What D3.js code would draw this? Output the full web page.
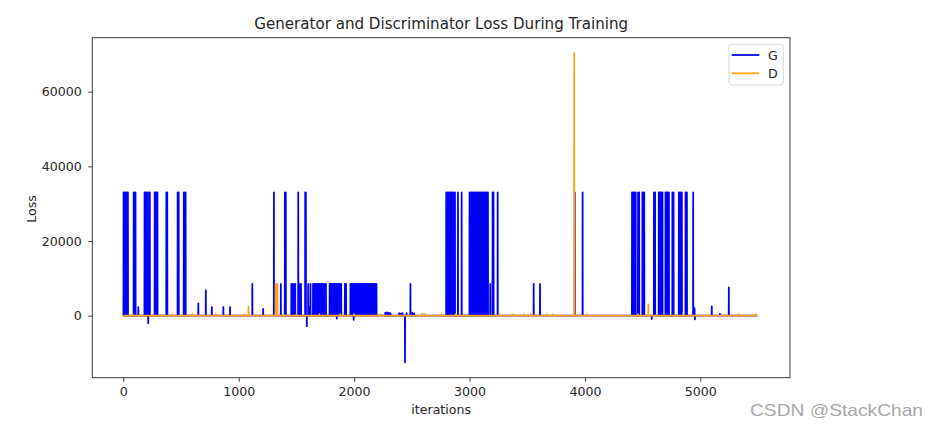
<!DOCTYPE html>
<html>
<head>
<meta charset="utf-8">
<script src="https://cdn.jsdelivr.net/npm/d3@7"></script>
<style>
  html, body { margin: 0; padding: 0; background: #fff; }
  svg { display: block; }
  text { font-family: "DejaVu Sans", sans-serif; }
</style>
</head>
<body>
<svg id="chart" width="930" height="434"></svg>
<script>
// ---------------- data ----------------
const title = "Generator and Discriminator Loss During Training";
const xLabel = "iterations";
const yLabel = "Loss";
const lastIteration = 5494;
const xTicks = [0, 1000, 2000, 3000, 4000, 5000];
const yTicks = [0, 20000, 40000, 60000];
const seriesNames = ["G", "D"];

// Generator loss spikes: iteration / value (baseline ~0 elsewhere)
const gIters = [
  2, 10, 18, 26, 34, 40, 90, 98, 106, 130,
  184, 192, 200, 208, 216, 224, 230, 272, 280, 288, 296, 373, 381, 471, 480, 524, 533, 540,
  650, 715, 767, 867, 925, 1118, 1212, 1305, 1365, 1400, 1408,
  1456, 1464, 1478, 1490, 1516, 1530, 1540, 1576, 1582, 1590, 1602, 1612, 1622,
  1644, 1652, 1660, 1668, 1676, 1684, 1692, 1700, 1708, 1716, 1724, 1732, 1746, 1756,
  1788, 1796, 1804, 1812, 1820, 1828, 1836, 1844, 1850, 1856, 1864, 1872, 1880, 1888, 1920, 1930,
  1968, 1976, 1984, 1992, 1996, 2002, 2010, 2018, 2026, 2034, 2042, 2050, 2058, 2066, 2074, 2082, 2090,
  2098, 2106, 2114, 2122, 2130, 2138, 2146, 2154, 2162, 2170, 2178, 2186, 2194,
  2270, 2285, 2300, 2315, 2390, 2405, 2420, 2441, 2455, 2488, 2505, 2520,
  2798, 2806, 2814, 2822, 2830, 2838, 2846, 2854, 2866, 2874, 2900, 2932,
  3000, 3008, 3016, 3024, 3032, 3040, 3048, 3056, 3064, 3072, 3080, 3088, 3096, 3104,
  3114, 3122, 3130, 3138, 3146, 3154, 3160, 3180, 3200, 3208, 3244, 3556, 3611, 3912, 3980,
  4408, 4416, 4424, 4432, 4440, 4460, 4470, 4498, 4506, 4514, 4579, 4598, 4608,
  4640, 4648, 4656, 4664, 4672, 4698, 4706, 4714, 4722, 4728, 4758, 4768,
  4814, 4822, 4830, 4840, 4872, 4884, 4938, 4950, 4953, 5099, 5170, 5247
];
const gValues = [
  33000, 33000, 33000, 33000, 33000, 33000, 33000, 33000, 33000, 2300,
  33000, 33000, 33000, 33000, -2000, 33000, 33000, 33000, 33000, 33000, 33000, 33000, 33000, 33000, 33000, 33000, 33000, 33000,
  3300, 6800, 2300, 2300, 2300, 8500, 1800, 33000, 8500, 33000, 33000,
  8500, 8500, 8500, 8500, 33000, 8500, 8500, 33000, 33000, -2800, 8500, 2300, 8500,
  8500, 8500, 8500, 8500, 8500, 8500, 8500, 8500, 8500, 8500, 8500, 8500, 8500, 8500,
  8500, 8500, 8500, 8500, 8500, 8500, 8500, 8500, -800, 8500, 8500, 8500, 8500, 8500, 8500, 8500,
  8500, 8500, 8500, 8500, -1100, 8500, 8500, 8500, 8500, 8500, 8500, 8500, 8500, 8500, 8500, 8500, 8500,
  8500, 8500, 8500, 8500, 8500, 8500, 8500, 8500, 8500, 8500, 8500, 8500, 8500,
  800, 900, 800, 700, 700, 600, 700, -12500, 700, 8500, 800, 600,
  33000, 33000, 33000, 33000, 33000, 33000, 33000, 33000, 33000, 33000, 33000, 33000,
  33000, 33000, 33000, 33000, 33000, 33000, 33000, 33000, 33000, 33000, 33000, 33000, 33000, 33000,
  33000, 33000, 33000, 33000, 33000, 33000, 33000, 8500, 33000, 33000, 33000, 8500, 8500, 33000, 33000,
  33000, 33000, 33000, 33000, 33000, 33000, 33000, 33000, 33000, 33000, -900, 33000, 33000,
  33000, 33000, 33000, 33000, 33000, 33000, 33000, 33000, 33000, 33000, 33000, 33000,
  33000, 33000, 33000, 33000, 33000, 33000, 33000, 2000, -1000, 2500, 500, 7600
];

// Discriminator loss spikes
const dIters = [
  80, 260, 430, 600, 800, 1050, 1085, 1320, 1335, 1390, 1500, 1700, 1880, 2000, 2230,
  2590, 2610, 2760, 2880, 2950, 3260, 3380, 3470, 3530, 3670, 3720, 3907, 4020,
  4460, 4550, 4850, 5330, 5480
];
const dValues = [
  400, 400, 400, 400, 400, 400, 2400, 8500, 8500, 400, 400, 400, 400, 400, 400,
  500, 500, 400, 400, 400, 400, 400, 400, 400, 400, 400, 70300, 400,
  400, 3000, 400, 400, 400
];

// ---------------- drawing ----------------
const svg = d3.select("#chart");
const plotLeft = 92.3, plotRight = 790, plotTop = 37.7, plotBottom = 377.7;

const x = d3.scaleLinear().domain([-268.6, 5777]).range([plotLeft, plotRight]);
const y = d3.scaleLinear().domain([-16606, 74458]).range([plotBottom, plotTop]);

function buildSeries(iters, values) {
  const pts = [[0, 0]];
  iters.forEach((it, k) => {
    pts.push([it - 1, 0], [it, values[k]], [it + 1, 0]);
  });
  pts.push([lastIteration, 0]);
  return pts;
}

const line = d3.line().x(d => x(d[0])).y(d => y(d[1]));

const plot = svg.append("g");
plot.append("path")
  .datum(buildSeries(gIters, gValues))
  .attr("d", line)
  .attr("fill", "none")
  .attr("stroke", "#0000ff")
  .attr("stroke-width", 1.75)
  .attr("stroke-linejoin", "round");
plot.append("path")
  .datum(buildSeries(dIters, dValues))
  .attr("d", line)
  .attr("fill", "none")
  .attr("stroke", "#ffa500")
  .attr("stroke-width", 1.75)
  .attr("stroke-linejoin", "round");

// axes
const xAxis = d3.axisBottom(x).tickValues(xTicks).tickSize(4).tickPadding(5).tickFormat(d3.format("d"));
const yAxis = d3.axisLeft(y).tickValues(yTicks).tickSize(4).tickPadding(6.5).tickFormat(d3.format("d"));

const gx = svg.append("g").attr("transform", `translate(0,${plotBottom})`).call(xAxis);
const gy = svg.append("g").attr("transform", `translate(${plotLeft},0)`).call(yAxis);
[gx, gy].forEach(g => {
  g.select(".domain").remove();
  g.selectAll("line").attr("stroke", "#333").attr("stroke-width", 0.95);
  g.selectAll("text").attr("fill", "#262626").style("font-size", "12.6px").style("font-family", "DejaVu Sans");
});

// frame
svg.append("rect")
  .attr("x", plotLeft).attr("y", plotTop)
  .attr("width", plotRight - plotLeft).attr("height", plotBottom - plotTop)
  .attr("fill", "none").attr("stroke", "#333").attr("stroke-width", 0.95);

// title and labels
svg.append("text").attr("x", (plotLeft + plotRight) / 2).attr("y", 29.3)
  .attr("text-anchor", "middle").style("font-size", "15.1px").attr("fill", "#262626").text(title);
svg.append("text").attr("x", (plotLeft + plotRight) / 2).attr("y", 413.5)
  .attr("text-anchor", "middle").style("font-size", "12.6px").attr("fill", "#262626").text(xLabel);
svg.append("text").attr("transform", `translate(36,209) rotate(-90)`)
  .attr("text-anchor", "middle").style("font-size", "12.6px").attr("fill", "#262626").text(yLabel);

// legend
const legend = svg.append("g");
legend.append("rect").attr("x", 729).attr("y", 44.3).attr("width", 54.3).attr("height", 40.7)
  .attr("rx", 3).attr("fill", "#fff").attr("fill-opacity", 0.8).attr("stroke", "#d6d6d6").attr("stroke-width", 1);
const legColors = ["#0000ff", "#ffa500"];
seriesNames.forEach((name, i) => {
  const ly = 55 + i * 18.3;
  legend.append("line").attr("x1", 731.7).attr("x2", 759.3).attr("y1", ly).attr("y2", ly)
    .attr("stroke", legColors[i]).attr("stroke-width", 1.75);
  legend.append("text").attr("x", 768).attr("y", ly + 4.5)
    .style("font-size", "12.6px").attr("fill", "#262626").text(name);
});

// watermark
svg.append("text").attr("x", 750).attr("y", 415.5)
  .attr("textLength", 173).attr("lengthAdjust", "spacingAndGlyphs")
  .style("font-family", "Liberation Sans, Arial, sans-serif").style("font-size", "16.5px")
  .attr("fill", "#a8a8a8").text("CSDN @StackChan");
</script>
</body>
</html>
